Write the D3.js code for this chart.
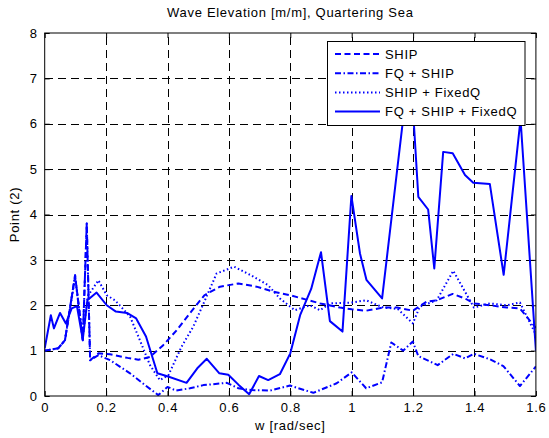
<!DOCTYPE html>
<html>
<head>
<meta charset="utf-8">
<script src="https://cdn.jsdelivr.net/npm/d3@7"></script>
<style>
  html, body { margin: 0; padding: 0; background: #fff; }
  svg { display: block; }
  text { font-family: "Liberation Sans", Arial, Helvetica, sans-serif; font-size: 13px; letter-spacing: 0.7px; fill: #000; }
</style>
</head>
<body>
<svg id="chart" width="549" height="438"></svg>
<script>
// Frequency axis (w, rad/sec) and response values for each configuration
const wShip = [0, 0.044, 0.066, 0.099, 0.124, 0.137, 0.148, 0.175, 0.213, 0.270, 0.305, 0.343, 0.386, 0.430, 0.470, 0.520, 0.571, 0.631, 0.690, 0.745, 0.800, 0.897, 0.962, 1.000, 1.047, 1.103, 1.147, 1.199, 1.244, 1.277, 1.329, 1.369, 1.398, 1.450, 1.505, 1.548, 1.600];
const ship  = [1.00, 1.05, 1.23, 2.66, 1.23, 3.80, 0.79, 0.94, 0.92, 0.84, 0.80, 0.86, 1.12, 1.45, 1.80, 2.22, 2.41, 2.48, 2.41, 2.30, 2.22, 2.04, 1.95, 1.91, 1.88, 1.95, 1.95, 1.88, 2.08, 2.11, 2.25, 2.15, 2.04, 2.00, 1.95, 1.93, 1.50];

const wFqShip = [0, 0.044, 0.066, 0.099, 0.124, 0.137, 0.148, 0.175, 0.213, 0.278, 0.327, 0.370, 0.400, 0.428, 0.473, 0.517, 0.593, 0.631, 0.674, 0.734, 0.799, 0.875, 0.951, 1.000, 1.047, 1.099, 1.129, 1.168, 1.199, 1.217, 1.280, 1.331, 1.369, 1.398, 1.450, 1.494, 1.548, 1.600];
const fqShip  = [1.00, 1.05, 1.23, 2.66, 1.23, 3.80, 0.79, 0.90, 0.79, 0.50, 0.24, 0.02, 0.20, 0.12, 0.17, 0.24, 0.29, 0.17, 0.13, 0.12, 0.23, 0.07, 0.28, 0.52, 0.17, 0.30, 1.18, 1.00, 1.20, 0.88, 0.68, 0.93, 0.83, 0.93, 0.81, 0.66, 0.22, 0.65];

const wShipFixed = [0, 0.044, 0.066, 0.099, 0.124, 0.140, 0.160, 0.175, 0.202, 0.229, 0.278, 0.310, 0.343, 0.375, 0.403, 0.446, 0.484, 0.522, 0.560, 0.617, 0.669, 0.728, 0.766, 0.815, 0.864, 0.897, 0.929, 1.000, 1.047, 1.103, 1.150, 1.199, 1.222, 1.277, 1.331, 1.369, 1.398, 1.450, 1.505, 1.548, 1.600];
const shipFixed  = [1.00, 1.05, 1.23, 2.60, 1.30, 2.20, 2.40, 2.55, 2.22, 2.11, 1.75, 1.23, 0.68, 0.35, 0.46, 1.09, 1.53, 2.11, 2.70, 2.85, 2.67, 2.44, 2.15, 1.89, 2.00, 1.89, 2.04, 2.06, 2.11, 1.95, 1.92, 1.60, 1.97, 2.11, 2.76, 2.30, 1.95, 2.04, 2.00, 2.06, 1.35];

const wAll = [0, 0.020, 0.030, 0.050, 0.069, 0.088, 0.105, 0.124, 0.139, 0.169, 0.202, 0.232, 0.268, 0.298, 0.330, 0.367, 0.402, 0.462, 0.497, 0.528, 0.569, 0.598, 0.631, 0.666, 0.698, 0.728, 0.766, 0.800, 0.832, 0.868, 0.900, 0.929, 0.970, 0.999, 1.027, 1.048, 1.099, 1.190, 1.217, 1.249, 1.269, 1.298, 1.329, 1.369, 1.396, 1.450, 1.495, 1.550, 1.600];
const all  = [1.05, 1.78, 1.49, 1.83, 1.60, 1.93, 1.98, 1.25, 2.11, 2.28, 2.00, 1.86, 1.83, 1.71, 1.31, 0.50, 0.43, 0.29, 0.61, 0.82, 0.50, 0.47, 0.25, 0.04, 0.44, 0.35, 0.48, 0.94, 1.78, 2.36, 3.17, 1.65, 1.42, 4.41, 3.14, 2.56, 2.15, 7.40, 4.39, 4.11, 2.81, 5.38, 5.35, 4.87, 4.70, 4.67, 2.67, 6.10, 1.00];

const seriesNames = ["SHIP", "FQ + SHIP", "SHIP + FixedQ", "FQ + SHIP + FixedQ"];
const xTicks = [0, 0.2, 0.4, 0.6, 0.8, 1, 1.2, 1.4, 1.6];
const yTicks = [0, 1, 2, 3, 4, 5, 6, 7, 8];

const chartTitle = "Wave Elevation [m/m], Quartering Sea";
const xTitle = "w [rad/sec]";
const yTitle = "Point (2)";

// Plot frame
const plotL = 44.7, plotR = 535.9, plotT = 33, plotB = 396;
const svg = d3.select("#chart");

const x = d3.scaleLinear().domain([0, 1.6]).range([plotL, plotR]);
const y = d3.scaleLinear().domain([0, 8]).range([plotB, plotT]);

const blue = "#0000ff";
const styles = [
  { dash: "6,3.5" },
  { dash: "6,2.5,1.5,2.5" },
  { dash: "1.5,2.5" },
  { dash: null }
];

svg.append("defs").append("clipPath").attr("id", "plotClip")
  .append("rect").attr("x", plotL).attr("y", plotT)
  .attr("width", plotR - plotL).attr("height", plotB - plotT);

// Grid lines
const grid = svg.append("g").attr("stroke", "#000").attr("stroke-width", 1)
  .attr("stroke-dasharray", "8,5").attr("shape-rendering", "crispEdges");
grid.selectAll("line.gx").data(xTicks.slice(1, -1)).join("line").attr("class", "gx")
  .attr("x1", d => Math.round(x(d)) + 0.5).attr("x2", d => Math.round(x(d)) + 0.5)
  .attr("y1", plotB).attr("y2", plotT);
grid.selectAll("line.gy").data(yTicks.slice(1, -1)).join("line").attr("class", "gy")
  .attr("y1", d => Math.round(y(d)) + 0.5).attr("y2", d => Math.round(y(d)) + 0.5)
  .attr("x1", plotL).attr("x2", plotR);

// Axes with inward ticks on all four sides
const tickLen = 5;
const axBottom = svg.append("g").attr("transform", `translate(0,${plotB})`)
  .call(d3.axisBottom(x).tickValues(xTicks).tickFormat(d3.format("")).tickSizeInner(-tickLen).tickSizeOuter(0).tickPadding(7));
const axTop = svg.append("g").attr("transform", `translate(0,${plotT})`)
  .call(d3.axisTop(x).tickValues(xTicks).tickFormat("").tickSizeInner(-tickLen).tickSizeOuter(0));
const axLeft = svg.append("g").attr("transform", `translate(${plotL},0)`)
  .call(d3.axisLeft(y).tickValues(yTicks).tickFormat(d3.format("d")).tickSizeInner(-tickLen).tickSizeOuter(0).tickPadding(7));
const axRight = svg.append("g").attr("transform", `translate(${plotR},0)`)
  .call(d3.axisRight(y).tickValues(yTicks).tickFormat("").tickSizeInner(-tickLen).tickSizeOuter(0));
[axBottom, axTop, axLeft, axRight].forEach(g => {
  g.attr("font-size", null).attr("font-family", null);
  g.select(".domain").remove();
  g.selectAll("line").attr("stroke", "#000");
  g.selectAll("text").attr("fill", "#000");
});

// Series lines
const seriesData = [
  d3.zip(wShip, ship),
  d3.zip(wFqShip, fqShip),
  d3.zip(wShipFixed, shipFixed),
  d3.zip(wAll, all)
];
const line = d3.line().x(d => x(d[0])).y(d => y(d[1]));
svg.append("g").attr("clip-path", "url(#plotClip)")
  .selectAll("path").data(seriesData).join("path")
  .attr("d", line)
  .attr("fill", "none")
  .attr("stroke", blue)
  .attr("stroke-width", 2)
  .attr("stroke-linejoin", "round")
  .attr("stroke-dasharray", (d, i) => styles[i].dash);

// Plot box
svg.append("rect").attr("x", plotL).attr("y", plotT)
  .attr("width", plotR - plotL).attr("height", plotB - plotT)
  .attr("fill", "none").attr("stroke", "#000").attr("stroke-width", 1);

// Legend
const lg = svg.append("g");
const lgX = 327.5, lgY = 41.5, lgW = 197.5, lgH = 84;
lg.append("rect").attr("x", lgX).attr("y", lgY).attr("width", lgW).attr("height", lgH)
  .attr("fill", "#fff").attr("stroke", "#000").attr("stroke-width", 1);
seriesNames.forEach((name, i) => {
  const cy = 54 + i * 19.2;
  lg.append("line").attr("x1", 335).attr("x2", 380).attr("y1", cy).attr("y2", cy)
    .attr("stroke", blue).attr("stroke-width", 2).attr("stroke-dasharray", styles[i].dash);
  lg.append("text").attr("x", 385).attr("y", cy).attr("dy", "0.35em").text(name);
});

// Titles
svg.append("text").attr("x", (plotL + plotR) / 2).attr("y", 17).attr("text-anchor", "middle").text(chartTitle);
svg.append("text").attr("x", (plotL + plotR) / 2).attr("y", 430).attr("text-anchor", "middle").text(xTitle);
svg.append("text").attr("transform", `translate(19,${(plotT + plotB) / 2}) rotate(-90)`)
  .attr("text-anchor", "middle").text(yTitle);
</script>
</body>
</html>
